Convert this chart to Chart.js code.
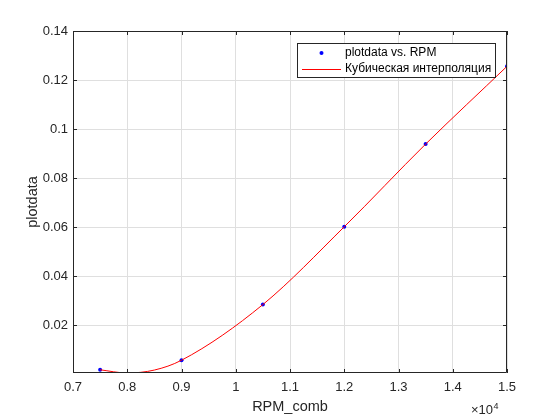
<!DOCTYPE html>
<html>
<head>
<meta charset="utf-8">
<script src="https://cdn.jsdelivr.net/npm/chart.js@4.4.1/dist/chart.umd.min.js"></script>
<style>
  html, body { margin: 0; padding: 0; background: #ffffff; }
  #wrap { width: 560px; height: 420px; position: relative; }
</style>
</head>
<body>
<div id="wrap"><canvas id="c" width="560" height="420"></canvas></div>
<script>
// ---- data ----
const rpm = [7500, 9000, 10500, 12000, 13500, 15000];
const plotdata = [0.0019, 0.0058, 0.0285, 0.0602, 0.0939, 0.1256];
// red interpolation curve (incl. its dip near 8000)
const curveRpm = [7500, 8000, 8500, 9000, 10500, 12000, 13500, 15000];
const curveVals = [0.0019, 0.0006, 0.0018, 0.0058, 0.0285, 0.0602, 0.0939, 0.1256];
const xTickValues = [7000, 8000, 9000, 10000, 11000, 12000, 13000, 14000, 15000];
const xTickLabels = ['0.7', '0.8', '0.9', '1', '1.1', '1.2', '1.3', '1.4', '1.5'];
const yTickValues = [0.02, 0.04, 0.06, 0.08, 0.1, 0.12, 0.14];
const yTickLabels = ['0.02', '0.04', '0.06', '0.08', '0.1', '0.12', '0.14'];
const seriesLabels = ['plotdata vs. RPM', 'Кубическая интерполяция'];
const xTitle = 'RPM_comb';
const yTitle = 'plotdata';
const xExponent = '4';

const AX = '#262626';
const GRID = '#dfdfdf';
const FONT = '"Liberation Sans", Arial, Helvetica, sans-serif';

const boxPlugin = {
  id: 'matlabBox',
  afterDraw(chart) {
    const ctx = chart.ctx;
    const a = chart.chartArea;
    const xs = chart.scales.x, ys = chart.scales.y;
    ctx.save();
    // box
    ctx.strokeStyle = AX;
    ctx.lineWidth = 1;
    ctx.beginPath();
    ctx.rect(Math.round(a.left) + 0.5, Math.round(a.top) + 0.5,
             Math.round(a.right - a.left) - 1, Math.round(a.bottom - a.top) - 1);
    ctx.stroke();
    // inward ticks
    const tl = 4;
    ctx.beginPath();
    xTickValues.forEach(v => {
      const px = Math.round(xs.getPixelForValue(v)) + 0.5;
      ctx.moveTo(px, a.bottom); ctx.lineTo(px, a.bottom - tl);
      ctx.moveTo(px, a.top); ctx.lineTo(px, a.top + tl);
    });
    yTickValues.forEach(v => {
      const py = Math.round(ys.getPixelForValue(v)) + 0.5;
      ctx.moveTo(a.left, py); ctx.lineTo(a.left + tl, py);
      ctx.moveTo(a.right, py); ctx.lineTo(a.right - tl, py);
    });
    ctx.stroke();
    // x10^4 exponent label
    ctx.fillStyle = AX;
    ctx.textBaseline = 'alphabetic';
    ctx.textAlign = 'left';
    ctx.font = '13px ' + FONT;
    const ex = a.right - 36;
    const ey = 414;
    ctx.fillText('\u00d710', ex, ey);
    const w = ctx.measureText('\u00d710').width;
    ctx.font = '9px ' + FONT;
    ctx.fillText(xExponent, ex + w + 0.5, ey - 5);
    // legend
    const ds = chart.data.datasets;
    ctx.font = '12px ' + FONT;
    let tw = 0;
    ds.forEach(d => { tw = Math.max(tw, ctx.measureText(d.label).width); });
    const bw = Math.round(47.5 + tw + 4);
    const bh = 34;
    const bx = Math.round(a.right - 12 - bw) + 0.5;
    const by = Math.round(a.top + 12) + 0.5;
    ctx.fillStyle = '#ffffff';
    ctx.fillRect(bx, by, bw, bh);
    ctx.strokeStyle = AX;
    ctx.lineWidth = 1;
    ctx.strokeRect(bx, by, bw, bh);
    const y1 = by + 9.5, y2 = by + 25;
    // entry 1 : blue dot
    ctx.fillStyle = '#0000ff';
    ctx.beginPath();
    ctx.arc(bx + 24, y1, 2, 0, Math.PI * 2);
    ctx.fill();
    // entry 2 : red line
    ctx.strokeStyle = '#ff0000';
    ctx.beginPath();
    ctx.moveTo(bx + 4.5, Math.round(y2) + 0.5);
    ctx.lineTo(bx + 43.5, Math.round(y2) + 0.5);
    ctx.stroke();
    ctx.fillStyle = '#000000';
    ctx.textBaseline = 'middle';
    ctx.fillText(ds[0].label, bx + 47.5, y1);
    ctx.fillText(ds[1].label, bx + 47.5, y2);
    ctx.restore();
  }
};

new Chart(document.getElementById('c'), {
  type: 'scatter',
  data: {
    datasets: [
      {
        label: seriesLabels[0],
        data: rpm.map((x, i) => ({ x: x, y: plotdata[i] })),
        showLine: false,
        pointRadius: 2,
        pointBackgroundColor: '#0000ff',
        pointBorderColor: '#0000ff',
        pointBorderWidth: 0,
        order: 1
      },
      {
        label: seriesLabels[1],
        data: curveRpm.map((x, i) => ({ x: x, y: curveVals[i] })),
        showLine: true,
        borderColor: '#ff0000',
        borderWidth: 1,
        pointRadius: 0,
        cubicInterpolationMode: 'monotone',
        fill: false,
        order: 0
      }
    ]
  },
  options: {
    responsive: false,
    animation: false,
    devicePixelRatio: 1,
    layout: { padding: { left: 0, right: 53, top: 31, bottom: 0 } },
    plugins: { legend: { display: false }, tooltip: { enabled: false } },
    scales: {
      x: {
        type: 'linear',
        min: 7000,
        max: 15000,
        afterFit(s) { s.height = 47; },
        afterBuildTicks(s) { s.ticks = xTickValues.map(v => ({ value: v })); },
        ticks: {
          autoSkip: false,
          maxRotation: 0,
          padding: 7,
          color: AX,
          font: { family: FONT, size: 13 },
          callback: (v) => xTickLabels[xTickValues.indexOf(v)]
        },
        grid: { color: GRID, lineWidth: 1, drawTicks: false },
        border: { display: false },
        title: {
          display: true,
          text: xTitle,
          color: AX,
          font: { family: FONT, size: 14.5 },
          padding: { top: 0, bottom: 4 }
        }
      },
      y: {
        type: 'linear',
        min: 0.0006,
        max: 0.14,
        afterFit(s) { s.width = 73; },
        afterBuildTicks(s) { s.ticks = yTickValues.map(v => ({ value: v })); },
        ticks: {
          autoSkip: false,
          padding: 5,
          color: AX,
          font: { family: FONT, size: 13 },
          callback: (v) => yTickLabels[yTickValues.indexOf(v)]
        },
        grid: { color: GRID, lineWidth: 1, drawTicks: false },
        border: { display: false },
        title: {
          display: true,
          text: yTitle,
          color: AX,
          font: { family: FONT, size: 14.5 },
          padding: { top: 24, bottom: 0 }
        }
      }
    }
  },
  plugins: [boxPlugin]
});
</script>
</body>
</html>
